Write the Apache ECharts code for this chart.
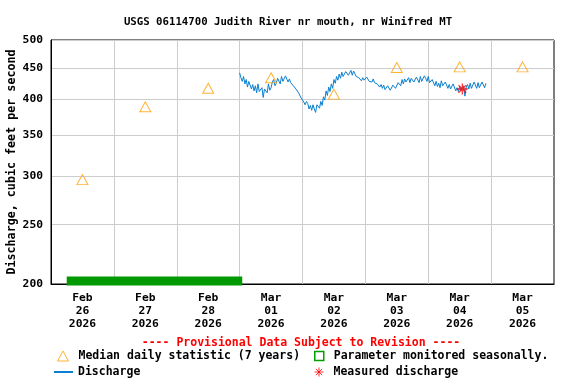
<!DOCTYPE html>
<html><head><meta charset="utf-8">
<script src="https://cdn.jsdelivr.net/npm/echarts@6/dist/echarts.min.js"></script>
<style>html,body{margin:0;padding:0;background:#fff}#c{width:576px;height:384px}</style>
</head><body><div id="c"></div>
<script>
const titleText = 'USGS 06114700 Judith River nr mouth, nr Winifred MT';
const yTickValues = [200, 250, 300, 350, 400, 450, 500];
const medianDays = ['2026-02-26', '2026-02-27', '2026-02-28', '2026-03-01', '2026-03-02', '2026-03-03', '2026-03-04', '2026-03-05'];
const medianValues = [296, 389, 417, 434, 408, 451, 452, 452];
const dischargeStart = '2026-03-01T00:00:00Z';
const dischargeStepMinutes = 30;
const dischargeValues = [
  442,434,428,436,424,431,419,428,426,416,423,413,421,410,424,412,409,418,403,416,
  419,410,424,414,418,427,431,421,425,433,434,424,436,428,429,437,435,427,432,426,
  428,421,422,416,415,410,408,402,401,396,392,397,394,386,391,384,392,386,381,392,
  394,387,397,391,404,399,413,406,419,412,424,417,431,425,436,430,440,433,443,436,
  437,444,445,438,440,446,438,445,443,436,439,434,435,429,434,430,428,435,433,428,
  431,427,432,426,429,424,426,419,423,417,422,415,414,421,420,414,416,422,423,417,
  420,426,427,421,431,424,432,427,429,434,426,433,434,427,428,435,432,426,436,428,
  430,437,433,428,436,426,424,431,429,421,428,420,425,418,429,421,420,427,426,417,
  423,416,415,424,421,413,418,412,420,414,416,421,405,419,423,416,425,417,419,427,
  424,417,426,418,420,427,424,418,425
];
const measuredTimes = ['2026-03-04T13:00:00Z'];
const measuredValues = [416];
const seasonalTimes = ['2026-02-26T06:00:00Z', '2026-03-01T01:00:00Z'];
const seasonalValues = [202.3, 202.3];
const xMin = '2026-02-26T00:00:00Z', xMax = '2026-03-06T00:00:00Z';
const labelDays = ['2026-02-26', '2026-02-27', '2026-02-28', '2026-03-01', '2026-03-02', '2026-03-03', '2026-03-04', '2026-03-05'];
const gridDays = ['2026-02-27', '2026-02-28', '2026-03-01', '2026-03-02', '2026-03-03', '2026-03-04', '2026-03-05'];
const monthNames = ['Jan','Feb','Mar','Apr','May','Jun','Jul','Aug','Sep','Oct','Nov','Dec'];

const HOUR = 3600000;
const originMs = Date.parse(xMin);
const h = s => (Date.parse(s) - originMs) / HOUR;          // hours since axis origin
const noon = d => h(d + 'T12:00:00Z');
const midnight = d => h(d + 'T00:00:00Z');
const startH = h(dischargeStart);
const dischargeData = dischargeValues.map((v, i) => [startH + i * dischargeStepMinutes / 60, v]);
const medianData = medianDays.map((d, i) => [noon(d), medianValues[i]]);
const measuredData = measuredTimes.map((d, i) => [h(d), measuredValues[i]]);
const seasonalData = seasonalTimes.map((d, i) => [h(d), seasonalValues[i]]);

const FONT = 'DejaVu Sans Mono';
const asterisk = 'path://M0,5L10,5M5,0L5,10M1.5,1.5L8.5,8.5M8.5,1.5L1.5,8.5';
const legendText = {fontFamily: FONT, fontWeight: 'bold', fontSize: 11.5, color: '#000'};

const chart = echarts.init(document.getElementById('c'), null, {renderer: 'canvas'});
chart.setOption({
  animation: false,
  backgroundColor: '#fff',
  title: {
    text: titleText, left: 'center', top: 12,
    textStyle: {fontFamily: FONT, fontWeight: 'bold', fontSize: 10.7, color: '#000'}
  },
  graphic: [{
    type: 'text', x: 301, y: 337,
    style: {text: '---- Provisional Data Subject to Revision ----', fill: '#ff0000',
      font: 'bold 11.5px "DejaVu Sans Mono"', textAlign: 'center'}
  }],
  grid: {left: 51, right: 22, top: 40, bottom: 100, show: true, borderColor: '#000', borderWidth: 1,
    containLabel: false, outerBoundsMode: 'none'},
  xAxis: {
    type: 'value', min: 0, max: h(xMax),
    axisLine: {show: true, lineStyle: {color: '#000'}},
    axisTick: {show: false, customValues: gridDays.map(midnight)},
    splitLine: {show: true, lineStyle: {color: '#cccccc', width: 1}},
    axisLabel: {
      customValues: labelDays.map(noon), margin: 8,
      fontFamily: FONT, fontWeight: 'bold', fontSize: 11.3, color: '#000', lineHeight: 13,
      formatter: v => { const d = new Date(originMs + v * HOUR); return monthNames[d.getUTCMonth()] + '\n' + String(d.getUTCDate()).padStart(2, '0') + '\n' + d.getUTCFullYear(); }
    }
  },
  yAxis: {
    type: 'log', min: 200, max: 500, logBase: 10,
    name: 'Discharge, cubic feet per second', nameLocation: 'middle', nameRotate: 90, nameGap: 33,
    nameMoveOverlap: false,
    nameTextStyle: {fontFamily: FONT, fontWeight: 'bold', fontSize: 11.7, color: '#000'},
    axisLine: {show: true, lineStyle: {color: '#000'}},
    axisTick: {show: false, customValues: yTickValues},
    splitLine: {show: true, lineStyle: {color: '#cccccc', width: 1}},
    minorSplitLine: {show: false},
    axisLabel: {customValues: yTickValues, margin: 8, fontFamily: FONT, fontWeight: 'bold', fontSize: 11.3, color: '#000'}
  },
  legend: [
    {left: 57, top: 350, padding: 0, itemWidth: 11, itemHeight: 10, textStyle: Object.assign({padding: [0,0,0,5]}, legendText),
     data: [{name: 'Median daily statistic (7 years)', icon: 'triangle', itemStyle: {color: 'transparent', borderColor: '#ffa000', borderWidth: 1}}]},
    {left: 314, top: 350, padding: 0, itemWidth: 9, itemHeight: 9, textStyle: Object.assign({padding: [0,0,0,5]}, legendText),
     data: [{name: 'Parameter monitored seasonally.', icon: 'rect', itemStyle: {color: 'transparent', borderColor: '#00a000', borderWidth: 1.5}}]},
    {left: 54, top: 366, padding: 0, itemWidth: 19, itemHeight: 2, textStyle: legendText,
     data: [{name: 'Discharge', icon: 'rect', itemStyle: {color: '#0a7fd0'}}]},
    {left: 314, top: 366, padding: 0, itemWidth: 9, itemHeight: 9, textStyle: Object.assign({padding: [0,0,0,5]}, legendText),
     data: [{name: 'Measured discharge', icon: asterisk, itemStyle: {color: 'transparent', borderColor: '#ff0000', borderWidth: 1}}]}
  ],
  series: [
    {name: 'Parameter monitored seasonally.', type: 'line', data: seasonalData, showSymbol: false, symbol: 'none', clip: false,
     lineStyle: {color: '#009900', width: 9, cap: 'butt'}, itemStyle: {color: '#009900'}, z: 5},
    {name: 'Discharge', type: 'line', data: dischargeData, showSymbol: false, symbol: 'none',
     lineStyle: {color: '#0a7fd0', width: 1}, itemStyle: {color: '#0a7fd0'}, z: 3},
    {name: 'Median daily statistic (7 years)', type: 'scatter', data: medianData, symbol: 'triangle', symbolSize: [11, 10],
     itemStyle: {color: 'transparent', borderColor: '#ffa000', borderWidth: 1}, z: 4},
    {name: 'Measured discharge', type: 'scatter', data: measuredData, symbol: asterisk, symbolSize: 11,
     itemStyle: {color: 'transparent', borderColor: '#ff0000', borderWidth: 1.3}, z: 6}
  ]
});
</script></body></html>
